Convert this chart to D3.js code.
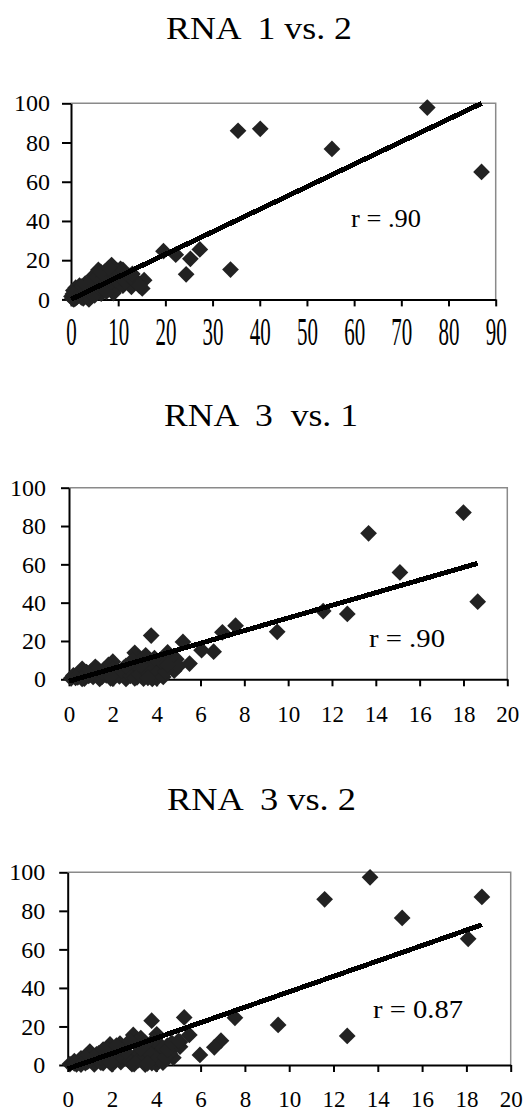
<!DOCTYPE html>
<html>
<head>
<meta charset="utf-8">
<script src="https://cdn.jsdelivr.net/npm/d3@7"></script>
<style>
  body { margin: 0; background: #fff; }
  text { font-family: "Liberation Serif", "Times New Roman", serif; }
</style>
</head>
<body>
<div id="chart"></div>
<script>
// Chart data
var titles = ["RNA  1 vs. 2", "RNA  3  vs. 1", "RNA  3 vs. 2"];
var rLabels = ["r = .90", "r = .90", "r = 0.87"];
var yTicks = [0, 20, 40, 60, 80, 100];
var xTicks1 = [0, 10, 20, 30, 40, 50, 60, 70, 80, 90];
var xTicks2 = [0, 2, 4, 6, 8, 10, 12, 14, 16, 18, 20];

// trend line: y = slope * x + intercept
var trendSlope = [1.149, 3.3, 4.0];
var trendIntercept = [0, -1, -2];

// RNA 1 vs. 2
var p1x = [75.5, 87, 35.4, 40.1, 55.3, 33.8, 24.4, 25.3, 27.3, 22.2, 19.6,
  15.1, 15.5, 14.2, 12.8, 12, 11.5, 10.5, 10.3, 9.6, 9.2, 8.6, 8.2, 8, 7.6, 7.2, 7,
  6.6, 6.2, 5.8, 5.5, 5.2, 5, 4.6, 4.3, 4, 3.6, 3.3, 3, 2.6, 2.4, 2, 1.8, 1.5, 1.2,
  1, 0.8, 0.5, 0.3, 0.1, 0.6, 3.8, 6.4, 9, 11, 12.8,
  1.5, 2.2, 2.8, 3.5, 4.5, 5.5, 6, 6.8, 7.5, 8.5, 9.5, 10.8, 11.5, 12.3, 13.5, 14.5,
  13, 4.8, 3.8, 2.2, 1.2, 0.4, 0.9, 5.5, 6.8, 8.8, 9.8, 11, 6.3, 8];
var p1y = [97.8, 65, 86, 87, 76.7, 15.2, 12.8, 20.7, 25.5, 22.8, 24.6,
  5.6, 9.8, 8.5, 9, 11, 13, 15.6, 9, 6, 12.5, 17.5, 14, 7.5, 10.5, 14.2, 4.5,
  9, 12, 15, 6.5, 10, 2, 7, 4.5, 1, 6.5, 3.5, 8, 0.5, 5, 2.5, 7, 4, 1,
  6, 2.5, 4.5, 0.5, 1.5, 0, 0, 3, 3.2, 7, 6.4,
  2, 1, 3, 1.5, 2.5, 3.5, 6, 5.5, 4, 9, 10, 11, 9, 12, 9.5, 7,
  13, 12, 8.5, 6.5, 3.5, 2.8, 0.5, 11.5, 11, 13, 14.5, 15, 14, 16];

// RNA 3 vs. 1
var p2x = [18.0, 13.67, 15.1, 18.65, 12.7, 11.6, 9.5, 7.6, 7.0, 6.6, 6.05, 5.5, 5.2,
  3.75, 4.8, 4.5, 3.0, 2.0, 4.0,
  0.1, 0.2, 0.4, 0.5, 0.7, 0.8, 1, 1.1, 1.3, 1.4, 1.6, 1.7, 1.8, 1.9, 2.2, 2.3, 2.5,
  2.6, 2.7, 2.9, 3.1, 3.2, 3.3, 3.4, 3.5, 3.6, 3.7, 3.8, 3.9, 4.1, 4.2, 4.3, 4.6,
  4.9, 5.0, 0.6, 1.2,
  0.3, 0.9, 1.5, 2, 2.1, 2.4, 2.8, 3, 3.2, 3.5, 3.7, 4, 4.0, 4.3, 4.4, 3.3, 2.6,
  2.0, 1.5, 1.0, 4.2, 3.9, 1.3, 0.8, 4.5, 2.9, 3.5, 1.9, 0.6, 3.6];
var p2y = [87, 76.2, 55.8, 40.5, 34.1, 35.6, 24.8, 28, 24.5, 14.4, 15.2, 8.2, 19.5,
  22.8, 4.5, 14, 13.8, 9.2, 9.2,
  0.5, 2, 1, 3, 0.3, 2.5, 4, 1.2, 3, 0.2, 5, 2, 7.5, 0.5, 4, 1.5, 6,
  0.2, 3, 8, 1, 10.5, 5, 0.3, 3, 7, 1.5, 0.2, 4.5, 9, 2.5, 6.5, 11,
  10.5, 7, 5.5, 6.5,
  0.8, 1.8, 1.2, 0.3, 2.5, 4.5, 1.8, 0.5, 2.5, 4.5, 6, 0.5, 3, 1.2, 4, 7.5, 7,
  5.5, 3.8, 2.5, 9.5, 11, 5.5, 3.8, 7.5, 10, 12.5, 1.5, 0.2, 0.8];

// RNA 3 vs. 2
var p3x = [13.65, 11.6, 18.7, 15.1, 18.08, 12.62, 9.5, 7.55, 6.92, 6.62, 5.97, 5.49,
  5.26, 3.79, 4.77, 5.07, 4.02, 2.96, 1.91, 2.36, 4.9, 3.7, 5.07,
  0.1, 0.3, 0.4, 0.6, 0.8, 0.9, 1.1, 1.2, 1.4, 1.5, 1.6, 1.8, 2.2, 2.4, 2.6, 2.8,
  2.9, 3.1, 3.2, 3.4, 3.5, 3.6, 3.8, 4.0, 4.2, 4.3, 4.5, 4.6, 3.3, 2.0, 1.0, 0.5,
  0.3, 0.9, 1.5, 2, 2.1, 2.4, 2.8, 3, 3.2, 3.5, 3.7, 4, 4.0, 4.3, 4.4, 3.3, 2.6,
  2.0, 1.5, 1.0, 4.2, 3.9, 1.3, 0.8, 4.5, 2.8, 3.5, 1.9, 0.6, 3.6, 1.6, 2.2, 4.7, 5.0];
var p3y = [97.4, 86, 87.2, 76.3, 65.5, 15.1, 20.8, 24.5, 12.6, 9.2, 5.2, 15.6,
  24.7, 23, 3.8, 9.5, 15.9, 15.6, 10.7, 11.1, 10.4, 7.8, 12,
  0.5, 2, 0.3, 3.5, 1, 5, 2.5, 0.3, 6, 3.5, 1, 8, 5, 1.5, 9, 3.5,
  0.5, 12, 6.5, 2, 0.2, 9, 1, 12, 7, 3, 10, 6, 14, 3, 7, 1.5,
  0.8, 1.8, 1.2, 0.3, 2.5, 4.5, 1.8, 0.5, 2.5, 4.5, 6, 0.5, 3, 1.2, 4, 8.5, 7,
  5.5, 3.8, 2.5, 10, 13, 5.5, 3.8, 8, 12.5, 11, 1.5, 0.2, 0.8, 8, 10, 11.5, 12.5];

var dataX = [p1x, p2x, p3x];
var dataY = [p1y, p2y, p3y];
var xTickSets = [xTicks1, xTicks2, xTicks2];
var xMaxes = [90, 20, 20];

// Layout of the three panels
var layout = [
  {left: 71, right: 495.7, top: 103.3, bottom: 299.4, yTick: 9, yPad: 12,
   xLabelBase: 45.5, xFont: 21, xSy: 1.9,
   titleX: 166, titleY: 39, titleW: 186, rX: 351, rY: 227, rW: 70},
  {left: 69, right: 507.3, top: 487.7, bottom: 679.3, yTick: 8, yPad: 15,
   xLabelBase: 43, xFont: 23, xSy: 1,
   titleX: 164, titleY: 426, titleW: 194, rX: 369, rY: 647, rW: 76},
  {left: 67.7, right: 510.7, top: 872.3, bottom: 1065, yTick: 8.5, yPad: 14,
   xLabelBase: 41.5, xFont: 23, xSy: 1,
   titleX: 167, titleY: 810, titleW: 189, rX: 373, rY: 1018, rW: 90}
];

var svg = d3.select("#chart")
  .append("svg")
  .attr("width", 529)
  .attr("height", 1112);

layout.forEach(function(p, i) {
  var xs = dataX[i];
  var ys = dataY[i];
  var points = d3.zip(xs, ys);

  var xScale = d3.scaleLinear().domain([0, xMaxes[i]]).range([p.left, p.right]);
  var yScale = d3.scaleLinear().domain([0, 100]).range([p.bottom, p.top]);

  var g = svg.append("g");

  // Title
  g.append("text")
    .attr("x", p.titleX)
    .attr("y", p.titleY)
    .attr("font-size", 32)
    .attr("textLength", p.titleW)
    .attr("lengthAdjust", "spacingAndGlyphs")
    .style("white-space", "pre")
    .text(titles[i]);

  // gray plot border, top and right
  g.append("path")
    .attr("d", "M" + p.left + "," + p.top + "H" + p.right + "V" + p.bottom)
    .attr("fill", "none")
    .attr("stroke", "#8a8a8a")
    .attr("stroke-width", 1.5);

  // y axis
  var yAxis = g.append("g")
    .attr("transform", "translate(" + p.left + ",0)")
    .call(d3.axisLeft(yScale).tickValues(yTicks).tickSize(p.yTick)
      .tickSizeOuter(0).tickPadding(p.yPad));
  yAxis.selectAll("path, line").attr("stroke", "#000").attr("stroke-width", 2);
  yAxis.selectAll("text")
    .attr("font-size", 24)
    .attr("font-family", "Liberation Serif, Times New Roman, serif")
    .attr("fill", "#000");

  // x axis
  var xAxis = g.append("g")
    .attr("transform", "translate(0," + p.bottom + ")")
    .call(d3.axisBottom(xScale).tickValues(xTickSets[i]).tickSize(7).tickSizeOuter(0));
  xAxis.selectAll("path, line").attr("stroke", "#000").attr("stroke-width", 2);
  xAxis.selectAll("text")
    .attr("y", 0)
    .attr("dy", 0)
    .attr("transform", "translate(0," + p.xLabelBase + ") scale(1," + p.xSy + ")")
    .attr("font-size", p.xFont)
    .attr("font-family", "Liberation Serif, Times New Roman, serif")
    .attr("fill", "#000");

  // diamond markers
  g.append("g")
    .selectAll("path")
    .data(points)
    .enter()
    .append("path")
    .attr("transform", function(d) {
      return "translate(" + xScale(d[0]) + "," + yScale(d[1]) + ") rotate(45)";
    })
    .attr("d", d3.symbol(d3.symbolSquare, 140))
    .attr("fill", "#222");

  // linear trend line across the data range
  var xEnd = d3.max(xs);
  var trend = [0, xEnd].map(function(x) {
    return [x, trendSlope[i] * x + trendIntercept[i]];
  });
  g.append("path")
    .datum(trend)
    .attr("d", d3.line()
      .x(function(d) { return xScale(d[0]); })
      .y(function(d) { return yScale(d[1]); }))
    .attr("fill", "none")
    .attr("stroke", "#000")
    .attr("stroke-width", 5)
    .attr("shape-rendering", "crispEdges");

  // correlation label
  g.append("text")
    .attr("x", p.rX)
    .attr("y", p.rY)
    .attr("font-size", 25)
    .attr("textLength", p.rW)
    .attr("lengthAdjust", "spacingAndGlyphs")
    .text(rLabels[i]);
});
</script>
</body>
</html>
